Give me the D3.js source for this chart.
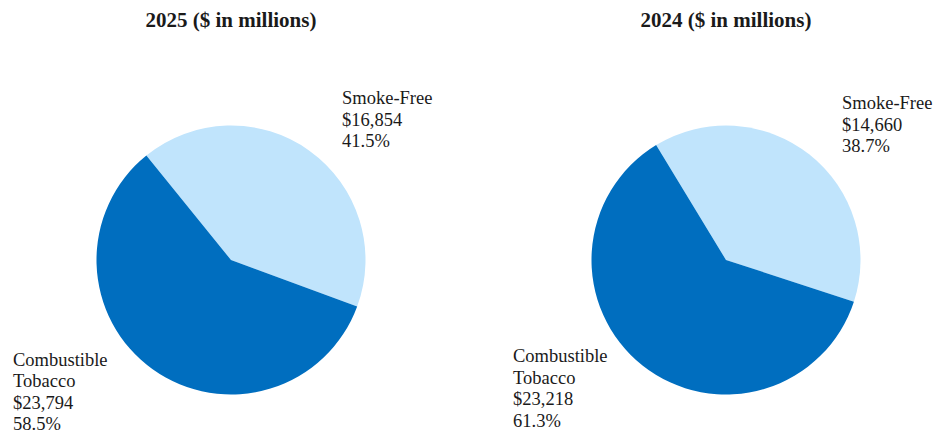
<!DOCTYPE html>
<html>
<head>
<meta charset="utf-8">
<script src="https://cdn.jsdelivr.net/npm/d3@7/dist/d3.min.js"></script>
<style>
  html, body { margin: 0; padding: 0; background: #fff; }
  svg { display: block; }
  text { font-family: "Liberation Serif", "Times New Roman", serif; fill: #1a1a1a; }
</style>
</head>
<body>
<svg id="chart" width="935" height="439"></svg>
<script>
// Net revenues by product category, $ in millions
const years = ["2025", "2024"];
const categories = ["Smoke-Free", "Combustible Tobacco"];
const categoryLines = [["Smoke-Free"], ["Combustible", "Tobacco"]];
const values2025 = [16854, 23794];
const values2024 = [14660, 23218];
const seriesValues = [values2025, values2024];

const colors = ["#C0E4FC", "#006EBF"];

// Per-panel layout: pie centre, first-slice angle (degrees), label anchors
const panels = [
  { cx: 231, cy: 260, start: -39.0,
    labels: [{ dx: 111, dy: -156 }, { dx: -218, dy: 105.5 }] },
  { cx: 726, cy: 260, start: -31.3,
    labels: [{ dx: 116, dy: -151 }, { dx: -213, dy: 102 }] }
];
const radius = 134.5;
const lineHeight = 21.5;

const svg = d3.select("#chart");
const fmtMoney = d3.format(",");
const fmtPct = d3.format(".1%");
const arc = d3.arc().innerRadius(0).outerRadius(radius);

panels.forEach((p, i) => {
  const vals = seriesValues[i];
  const total = d3.sum(vals);
  const data = categories.map((c, k) => ({ key: c, lines: categoryLines[k], value: vals[k] }));

  const pie = d3.pie()
    .value(d => d.value)
    .sort(null)
    .startAngle(p.start * Math.PI / 180)
    .endAngle(p.start * Math.PI / 180 + 2 * Math.PI);

  const g = svg.append("g").attr("transform", `translate(${p.cx},${p.cy})`);

  g.selectAll("path.slice")
    .data(pie(data))
    .join("path")
    .attr("class", "slice")
    .attr("d", arc)
    .attr("fill", (d, k) => colors[k]);

  // Title
  svg.append("text")
    .attr("x", p.cx)
    .attr("y", 27)
    .attr("text-anchor", "middle")
    .style("font-weight", "bold")
    .style("font-size", "21px")
    .text(`${years[i]} ($ in millions)`);

  // Category labels: name, value, share
  data.forEach((d, k) => {
    const lines = [...d.lines, "$" + fmtMoney(d.value), fmtPct(d.value / total)];
    const t = g.append("text")
      .attr("x", p.labels[k].dx)
      .attr("y", p.labels[k].dy)
      .style("font-size", "18.5px");
    lines.forEach((ln, j) => {
      t.append("tspan")
        .attr("x", p.labels[k].dx)
        .attr("y", p.labels[k].dy + j * lineHeight)
        .text(ln);
    });
  });
});
</script>
</body>
</html>
